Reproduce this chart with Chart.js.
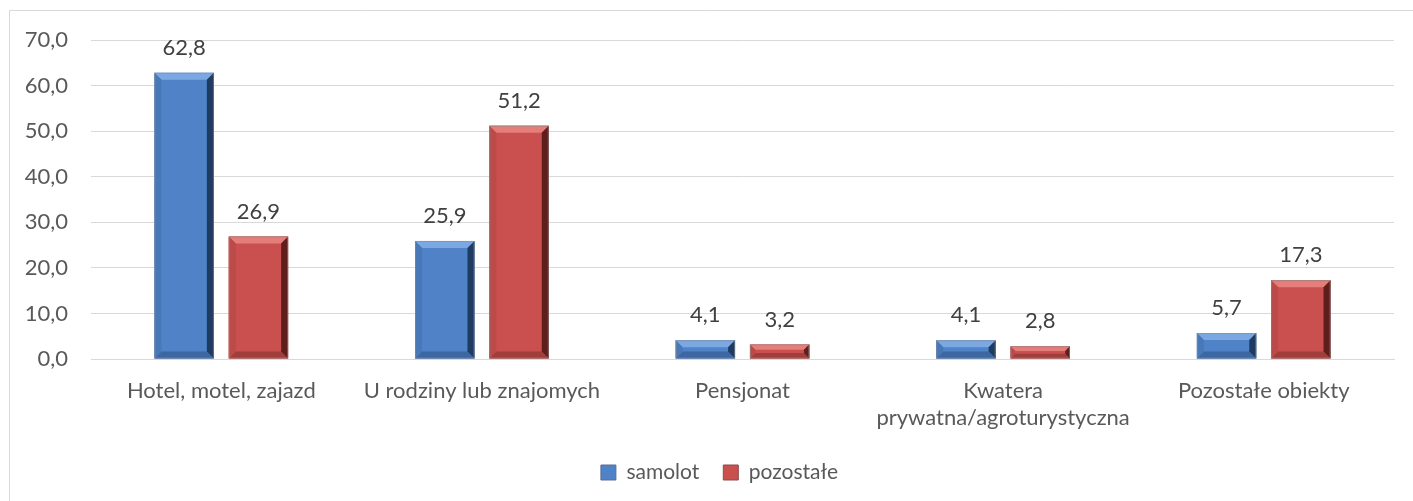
<!DOCTYPE html>
<html>
<head>
<meta charset="utf-8">
<script src="https://cdn.jsdelivr.net/npm/chart.js@4/dist/chart.umd.min.js"></script>
<style>
html,body{margin:0;padding:0;background:#fff;}
#wrap{position:absolute;left:0;top:0;width:1413px;height:501px;}
</style>
</head>
<body>
<div id="wrap"><canvas id="c" width="1413" height="501"></canvas></div>
<script>
const categories = ["Hotel, motel, zajazd", "U rodziny lub znajomych", "Pensjonat", ["Kwatera", "prywatna/agroturystyczna"], "Pozostałe obiekty"];
const seriesNames = ["samolot", "pozostałe"];
const samolot = [62.8, 25.9, 4.1, 4.1, 5.7];
const pozostale = [26.9, 51.2, 3.2, 2.8, 17.3];
const yMin = 0, yMax = 70, yStep = 10;

const FONT = "Lato, 'Open Sans', sans-serif";
const FS = 22;
const bevelColors = [
  {face:'#4F82C6', top:'#7BA8E2', right:'#1F3B61', bottom:'#3C67A3', left:'#4878B8'},
  {face:'#C9504E', top:'#E57D7A', right:'#5E1E1C', bottom:'#A03E3C', left:'#BB4A48'}
];
const fmt = v => v.toFixed(1).replace('.', ',');

const borderPlugin = {
  id:'outerBorder',
  beforeDraw(chart){
    const ctx = chart.ctx;
    ctx.save();
    ctx.strokeStyle = '#d9d9d9';
    ctx.lineWidth = 1;
    ctx.beginPath();
    ctx.moveTo(9.5, 501); ctx.lineTo(9.5, 10.5); ctx.lineTo(1413, 10.5);
    ctx.stroke();
    ctx.restore();
    if (chart.legend) { chart.legend.left = 45; chart.legend.width = chart.legend.right - 45; }
  }
};

const bevelPlugin = {
  id:'bevel',
  afterDatasetsDraw(chart){
    const ctx = chart.ctx;
    chart.data.datasets.forEach((ds, di) => {
      const meta = chart.getDatasetMeta(di);
      const col = bevelColors[di];
      meta.data.forEach((bar, i) => {
        const p = bar.getProps(['x','y','base','width'], true);
        const l = p.x - p.width/2, r = p.x + p.width/2, t = Math.min(p.y, p.base), b = Math.max(p.y, p.base);
        const h = b - t;
        const bv = Math.min(7, h/2.6);
        ctx.save();
        ctx.fillStyle = col.face;
        ctx.fillRect(l, t, r-l, h);
        const poly = (pts, fill) => {
          ctx.beginPath();
          ctx.moveTo(pts[0][0], pts[0][1]);
          for (let k=1;k<pts.length;k++) ctx.lineTo(pts[k][0], pts[k][1]);
          ctx.closePath();
          ctx.fillStyle = fill; ctx.fill();
        };
        poly([[l,t],[r,t],[r-bv,t+bv],[l+bv,t+bv]], col.top);
        poly([[l,b],[r,b],[r-bv,b-bv],[l+bv,b-bv]], col.bottom);
        poly([[l,t],[l+bv,t+bv],[l+bv,b-bv],[l,b]], col.left);
        poly([[r,t],[r,b],[r-bv,b-bv],[r-bv,t+bv]], col.right);
        ctx.strokeStyle = 'rgba(140,140,140,0.6)';
        ctx.lineWidth = 1;
        ctx.strokeRect(l+0.5, t+0.5, r-l-1, h-1);
        ctx.restore();
        ctx.save();
        ctx.font = FS + "px " + FONT;
        ctx.fillStyle = '#404040';
        ctx.textAlign = 'center';
        ctx.textBaseline = 'middle';
        ctx.fillText(fmt(ds.data[i]), p.x, t - 25);
        ctx.restore();
      });
    });
  }
};

new Chart(document.getElementById('c'), {
  type:'bar',
  data:{
    labels: categories,
    datasets:[
      {label: seriesNames[0], data: samolot, backgroundColor: bevelColors[0].face, borderColor:'#5a6f8f', borderWidth:1},
      {label: seriesNames[1], data: pozostale, backgroundColor: bevelColors[1].face, borderColor:'#8a4a48', borderWidth:1}
    ]
  },
  options:{
    responsive:false,
    animation:false,
    devicePixelRatio:1,
    datasets:{bar:{categoryPercentage:0.57, barPercentage:0.8}},
    layout:{padding:{left:0, right:19, top:40, bottom:8}},
    plugins:{
      legend:{
        position:'bottom',
        labels:{font:{family:FONT, size:21}, color:'#595959', boxWidth:15, boxHeight:15, padding:24}
      },
      tooltip:{enabled:false}
    },
    scales:{
      x:{
        grid:{display:false},
        border:{display:true, color:'#d9d9d9'},
        ticks:{font:{family:FONT, size:FS, lineHeight:1.2}, color:'#595959', padding:11, maxRotation:0, autoSkip:false},
        afterFit(s){ s.height = 79; }
      },
      y:{
        min:yMin, max:yMax,
        grid:{color:'#d9d9d9', lineWidth:1, drawTicks:false, tickLength:0},
        border:{display:false},
        ticks:{stepSize:yStep, font:{family:FONT, size:FS}, color:'#595959', padding:23, callback:v=>fmt(v)},
        afterFit(s){ s.width = 91; }
      }
    }
  },
  plugins:[borderPlugin, bevelPlugin]
});
</script>
</body>
</html>
